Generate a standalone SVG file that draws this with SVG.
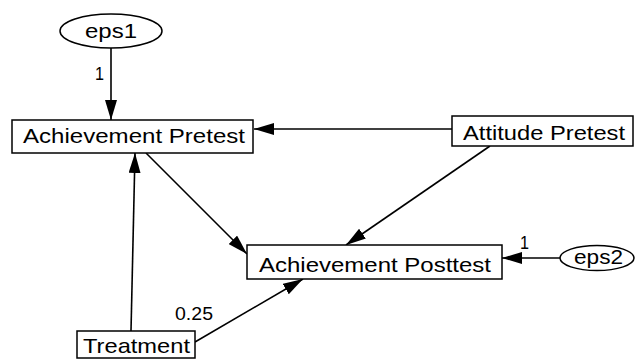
<svg xmlns="http://www.w3.org/2000/svg" width="635" height="360" viewBox="0 0 635 360">
<style>
.box{fill:#fff;stroke:#000;stroke-width:1.5}
.lat{fill:#fff;stroke:#000;stroke-width:1.5}
.t{font-family:"Liberation Sans",Arial,sans-serif;font-size:21px;fill:#000}
.n{font-family:"Liberation Sans",Arial,sans-serif;font-size:18px;fill:#000}
.c{stroke:#000;stroke-width:1.6;fill:none;marker-end:url(#ah)}
</style>
<defs>
<marker id="ah" markerUnits="userSpaceOnUse" markerWidth="20" markerHeight="12" refX="20" refY="6" orient="auto">
<path d="M0,0 L20,6 L0,12 z" fill="#000"/>
</marker>
</defs>
<rect width="635" height="360" fill="#fff"/>
<g id="connectors">
<line class="c" x1="111" y1="48" x2="111" y2="120"/>
<line class="c" x1="452" y1="129" x2="254" y2="129"/>
<line class="c" x1="146" y1="153" x2="247" y2="254"/>
<line class="c" x1="490" y1="146" x2="346" y2="245"/>
<line class="c" x1="131" y1="331" x2="135" y2="153"/>
<line class="c" x1="195" y1="342" x2="303" y2="279"/>
<line class="c" x1="560" y1="258" x2="502" y2="258"/>
<text class="n" x="95" y="80" textLength="9" lengthAdjust="spacingAndGlyphs">1</text>
<text class="n" x="520" y="249" textLength="9" lengthAdjust="spacingAndGlyphs">1</text>
<text class="n" x="175" y="320" textLength="38" lengthAdjust="spacingAndGlyphs">0.25</text>
</g>
<g id="eps1">
<ellipse class="lat" cx="111" cy="31" rx="51" ry="17"/>
<text class="t" x="85" y="38" textLength="52" lengthAdjust="spacingAndGlyphs">eps1</text>
</g>
<g id="achievement-pretest">
<rect class="box" x="12" y="120" width="241" height="33"/>
<text class="t" x="23" y="143" textLength="222" lengthAdjust="spacingAndGlyphs">Achievement Pretest</text>
</g>
<g id="attitude-pretest">
<rect class="box" x="452" y="116" width="181" height="30"/>
<text class="t" x="463" y="140" textLength="162" lengthAdjust="spacingAndGlyphs">Attitude Pretest</text>
</g>
<g id="achievement-posttest">
<rect class="box" x="247" y="245" width="255" height="34"/>
<text class="t" x="259" y="272" textLength="232" lengthAdjust="spacingAndGlyphs">Achievement Posttest</text>
</g>
<g id="eps2">
<ellipse class="lat" cx="597" cy="258" rx="37" ry="12.5"/>
<text class="t" x="574" y="264" textLength="49" lengthAdjust="spacingAndGlyphs">eps2</text>
</g>
<g id="treatment">
<rect class="box" x="77" y="331" width="118" height="27"/>
<text class="t" x="83" y="353" textLength="107" lengthAdjust="spacingAndGlyphs">Treatment</text>
</g>
</svg>
